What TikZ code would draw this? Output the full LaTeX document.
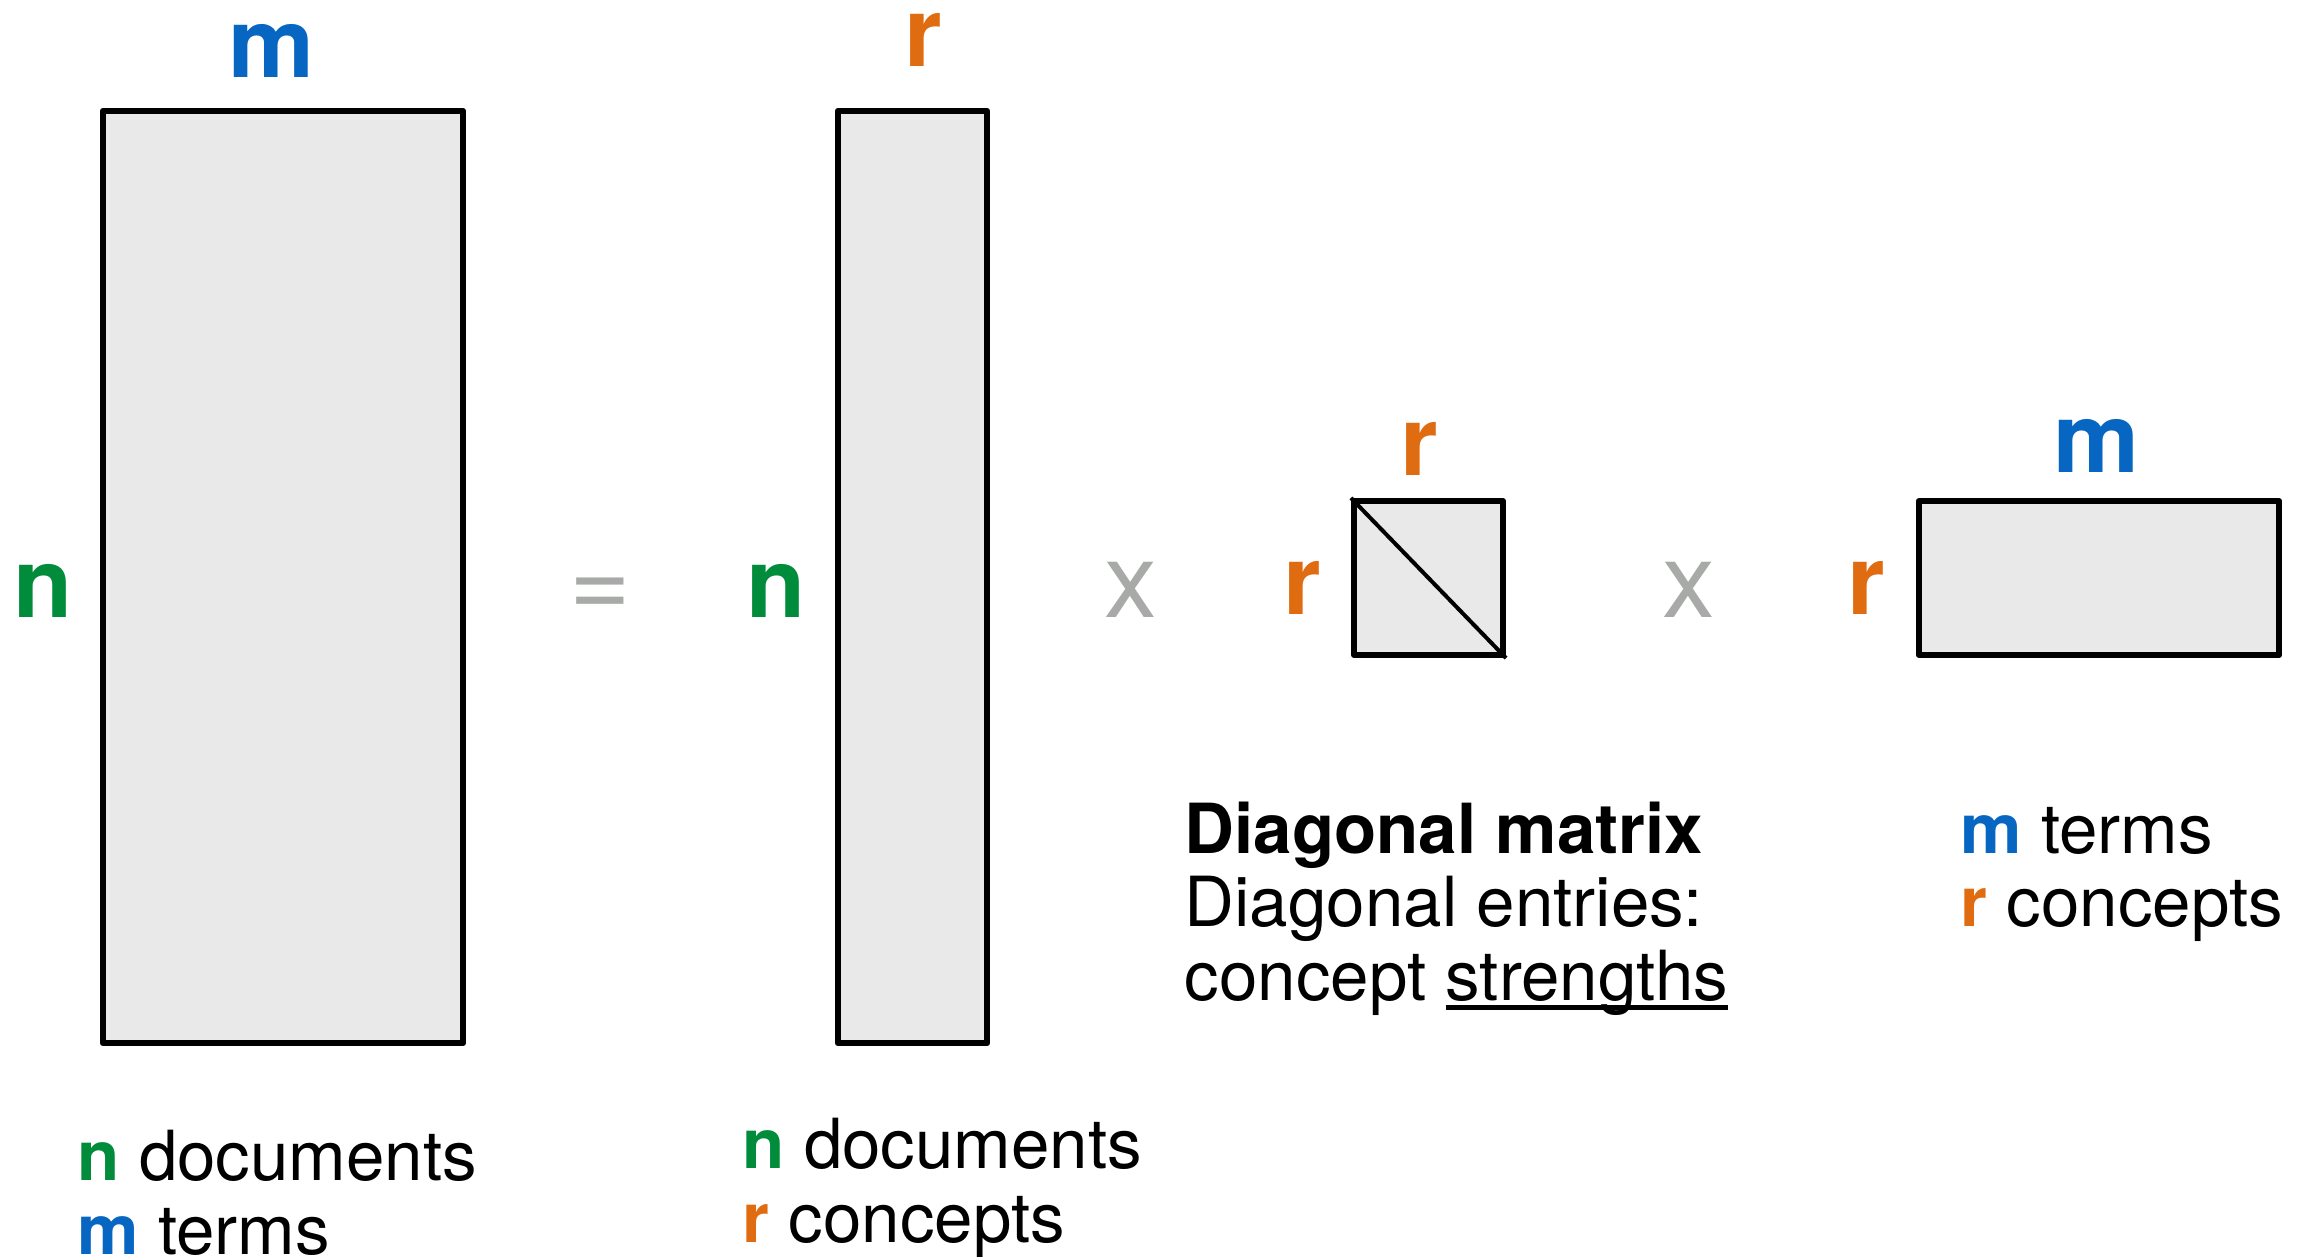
\documentclass[tikz,border=0pt]{standalone}
\usepackage{fontspec}
\setmainfont{TeX Gyre Heros}
\definecolor{cblue}{RGB}{6,102,194}
\definecolor{cgreen}{RGB}{0,140,58}
\definecolor{corange}{RGB}{224,108,18}
\definecolor{cgray}{RGB}{168,170,168}
\definecolor{cfill}{RGB}{233,233,233}
\newcommand\myul[1]{\setbox0\hbox{#1}\rlap{\rule[-0.14em]{\wd0}{0.07em}}\box0}
\begin{document}
\begin{tikzpicture}[x=0.01cm,y=-0.01cm,
  mat/.style={draw=black,line width=0.06cm,fill=cfill,rectangle,inner sep=0pt,line join=round},
  big/.style={font=\fontsize{27.5}{30}\selectfont\bfseries,anchor=base,inner sep=0pt},
  op/.style={font=\fontsize{30}{32}\selectfont,text=cgray,anchor=base,inner sep=0pt},
  txt/.style={font=\fontsize{19.65}{21}\selectfont,anchor=base west,inner sep=0pt}]
\useasboundingbox (0,0) rectangle (2313,1256);
% matrices
\node[mat,minimum width=3.6cm,minimum height=9.32cm] (A) at (283,577) {};
\node[mat,minimum width=1.49cm,minimum height=9.32cm] (U) at (912.5,577) {};
\node[mat,minimum width=1.49cm,minimum height=1.54cm] (S) at (1428.5,578) {};
\node[mat,minimum width=3.6cm,minimum height=1.54cm] (V) at (2099,578) {};
\draw[line width=0.04cm] (S.north west) -- (S.south east);
% dimension labels
\node[big,text=cblue] (Am) at (271,77) {m};
\node[big,text=cgreen] (An) at (43,617) {n};
\node[op] (eq) at (600,617) {=};
\node[big,text=corange] (Ur) at (923,66) {r};
\node[big,text=cgreen] (Un) at (776,617) {n};
\node[op] (x1) at (1131,617) {x};
\node[big,text=corange] (Sr1) at (1302,614) {r};
\node[big,text=corange] (Sr2) at (1419,475) {r};
\node[op] (x2) at (1689,617) {x};
\node[big,text=corange] (Vr) at (1866,614) {r};
\node[big,text=cblue] (Vm) at (2096,472) {m};
% captions
\node[txt] (a1) at (77,1180) {\textcolor{cgreen}{\bfseries n} documents};
\node[txt] (a2) at (77,1254) {\textcolor{cblue}{\bfseries m} terms};
\node[txt] (u1) at (742,1168) {\textcolor{cgreen}{\bfseries n} documents};
\node[txt] (u2) at (742,1242) {\textcolor{corange}{\bfseries r} concepts};
\node[txt] (s1) at (1184,853) {\bfseries Diagonal matrix};
\node[txt] (s2) at (1184,926) {Diagonal entries:};
\node[txt] (s3) at (1184,1000) {concept \myul{strengths}};
\node[txt] (v1) at (1960,853) {\textcolor{cblue}{\bfseries m} terms};
\node[txt] (v2) at (1960,926) {\textcolor{corange}{\bfseries r} concepts};
\end{tikzpicture}
\end{document}
